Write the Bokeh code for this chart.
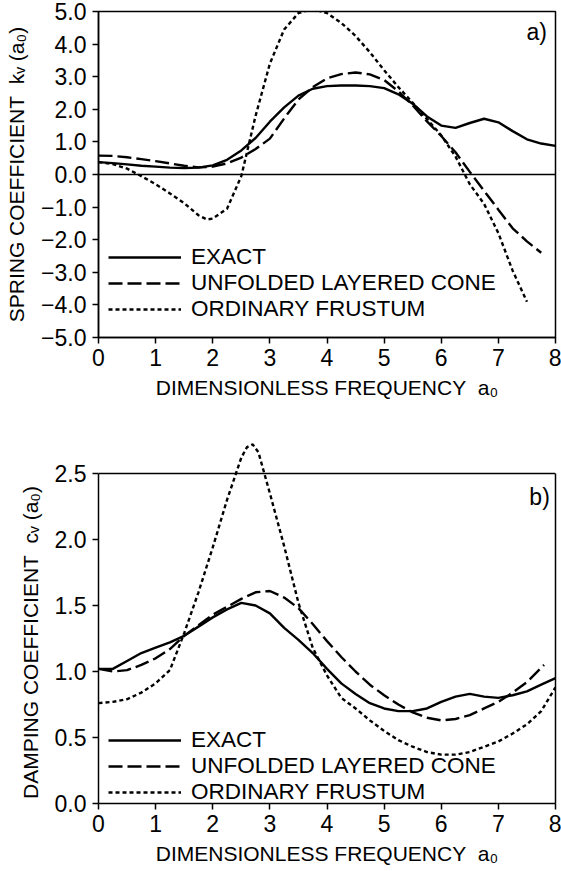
from bokeh.plotting import figure
from bokeh.layouts import column
from bokeh.models import (Legend, LegendItem, Span, LinearAxis, FixedTicker,
                          Label, Range1d)
from bokeh.embed import file_html
from bokeh.resources import INLINE

FONT = "Liberation Sans"

# ---------------- data: a) spring coefficient ----------------
k_exact_x = [0, 0.25, 0.5, 0.75, 1.0, 1.25, 1.5, 1.75, 2.0, 2.25, 2.5, 2.75, 3.0,
             3.25, 3.5, 3.75, 4.0, 4.25, 4.5, 4.75, 5.0, 5.25, 5.5, 5.75, 6.0,
             6.25, 6.5, 6.75, 7.0, 7.25, 7.5, 7.75, 8.0]
k_exact_y = [0.38, 0.35, 0.31, 0.27, 0.24, 0.21, 0.20, 0.21, 0.28, 0.45, 0.74, 1.12, 1.62,
             2.06, 2.42, 2.63, 2.71, 2.73, 2.73, 2.71, 2.65, 2.46, 2.17, 1.78, 1.50,
             1.43, 1.58, 1.71, 1.60, 1.33, 1.08, 0.95, 0.88]

k_cone_x = [0, 0.25, 0.5, 0.75, 1.0, 1.25, 1.5, 1.75, 2.0, 2.25, 2.5, 2.75, 3.0,
            3.25, 3.5, 3.75, 4.0, 4.25, 4.5, 4.75, 5.0, 5.25, 5.5, 5.75, 6.0,
            6.25, 6.5, 6.75, 7.0, 7.25, 7.5, 7.75]
k_cone_y = [0.58, 0.57, 0.53, 0.47, 0.41, 0.34, 0.27, 0.22, 0.24, 0.34, 0.52, 0.78, 1.10,
            1.72, 2.30, 2.68, 2.95, 3.08, 3.13, 3.07, 2.90, 2.55, 2.12, 1.63, 1.18,
            0.68, 0.08, -0.50, -1.08, -1.65, -2.05, -2.40]

k_frust_x = [0, 0.25, 0.5, 0.75, 1.0, 1.25, 1.5, 1.75, 1.9, 2.0, 2.25, 2.5, 2.75, 3.0,
             3.25, 3.5, 3.75, 4.0, 4.25, 4.5, 4.75, 5.0, 5.25, 5.5, 5.75, 6.0,
             6.25, 6.5, 6.75, 7.0, 7.25, 7.5]
k_frust_y = [0.38, 0.32, 0.18, -0.05, -0.30, -0.58, -0.88, -1.25, -1.38, -1.35, -1.05, -0.05, 1.80, 3.40,
             4.45, 4.95, 5.08, 4.95, 4.65, 4.25, 3.75, 3.20, 2.68, 2.20, 1.70, 1.20,
             0.55, -0.30, -0.90, -1.80, -2.95, -3.90]

# ---------------- data: b) damping coefficient ----------------
c_exact_x = [0, 0.25, 0.5, 0.75, 1.0, 1.25, 1.5, 1.75, 2.0, 2.25, 2.5, 2.75, 3.0,
             3.25, 3.5, 3.75, 4.0, 4.25, 4.5, 4.75, 5.0, 5.25, 5.5, 5.75, 6.0,
             6.25, 6.5, 6.75, 7.0, 7.25, 7.5, 7.75, 8.0]
c_exact_y = [1.02, 1.02, 1.08, 1.14, 1.18, 1.22, 1.27, 1.34, 1.41, 1.47, 1.52, 1.50, 1.44,
             1.33, 1.24, 1.14, 1.02, 0.91, 0.83, 0.76, 0.72, 0.70, 0.70, 0.72, 0.77,
             0.81, 0.83, 0.81, 0.80, 0.82, 0.85, 0.90, 0.95]

c_cone_x = [0, 0.25, 0.5, 0.75, 1.0, 1.25, 1.5, 1.75, 2.0, 2.25, 2.5, 2.75, 3.0,
            3.25, 3.5, 3.75, 4.0, 4.25, 4.5, 4.75, 5.0, 5.25, 5.5, 5.75, 6.0,
            6.25, 6.5, 6.75, 7.0, 7.25, 7.5, 7.8]
c_cone_y = [1.02, 1.00, 1.01, 1.05, 1.10, 1.17, 1.27, 1.35, 1.43, 1.49, 1.55, 1.60, 1.61,
            1.56, 1.48, 1.36, 1.23, 1.11, 1.00, 0.90, 0.82, 0.75, 0.69, 0.65, 0.63,
            0.64, 0.67, 0.72, 0.77, 0.84, 0.92, 1.05]

c_frust_x = [0, 0.25, 0.5, 0.75, 1.0, 1.25, 1.5, 1.75, 2.0, 2.25, 2.5, 2.6, 2.7, 2.8, 3.0,
             3.25, 3.5, 3.75, 4.0, 4.25, 4.5, 4.75, 5.0, 5.25, 5.5, 5.75, 6.0,
             6.25, 6.5, 6.75, 7.0, 7.25, 7.5, 7.75, 8.0]
c_frust_y = [0.76, 0.77, 0.79, 0.84, 0.91, 1.01, 1.29, 1.60, 1.94, 2.30, 2.62, 2.70, 2.72, 2.66, 2.35,
             1.95, 1.52, 1.18, 0.97, 0.80, 0.72, 0.63, 0.55, 0.48, 0.43, 0.39, 0.37,
             0.37, 0.39, 0.43, 0.47, 0.53, 0.60, 0.70, 0.88]

# ---------------- ticks / labels ----------------
x_ticks = [0, 1, 2, 3, 4, 5, 6, 7, 8]
k_ticks = [-5, -4, -3, -2, -1, 0, 1, 2, 3, 4, 5]
k_tick_labels = ["\u22125.0", "\u22124.0", "\u22123.0", "\u22122.0", "\u22121.0",
                 "0.0", "1.0", "2.0", "3.0", "4.0", "5.0"]
c_ticks = [0.0, 0.5, 1.0, 1.5, 2.0, 2.5]
c_tick_labels = ["0.0", "0.5", "1.0", "1.5", "2.0", "2.5"]
series_names = ["EXACT", "UNFOLDED LAYERED CONE", "ORDINARY FRUSTUM"]
x_title = "DIMENSIONLESS FREQUENCY\u00a0\u00a0a\u2080"
k_title = "SPRING COEFFICIENT\u00a0\u00a0k\u1d65 (a\u2080)"
c_title = "DAMPING COEFFICIENT\u00a0\u00a0c\u1d65 (a\u2080)" + "\u00a0" * 7

LW = 2.4
DASH = "14 5"
DOT = "4 3"


def style_axis(ax, title):
    ax.axis_label = title
    ax.axis_label_text_font = FONT
    ax.axis_label_text_font_size = "21px"
    ax.axis_label_text_font_style = "normal"
    ax.axis_label_text_color = "black"
    ax.major_label_text_font = FONT
    ax.major_label_text_font_size = "23px"
    ax.major_label_text_color = "black"
    ax.axis_line_color = "black"
    ax.axis_line_width = 1.5
    ax.major_tick_line_color = "black"
    ax.major_tick_line_width = 1.5
    ax.major_tick_out = 6
    ax.major_tick_in = 0
    ax.minor_tick_line_color = None


def make_legend(p, renderers, loc):
    items = [LegendItem(label=n, renderers=[r]) for n, r in zip(series_names, renderers)]
    leg = Legend(items=items, location=loc, orientation="vertical",
                 glyph_width=73, glyph_height=24, label_height=24,
                 label_standoff=10, spacing=0, padding=0, margin=0,
                 border_line_color=None, background_fill_alpha=0,
                 label_text_font=FONT, label_text_font_size="22.5px",
                 label_text_color="black")
    p.add_layout(leg)


# ---------------- figure a) ----------------
p1 = figure(width=561, height=430, x_range=Range1d(0, 8), y_range=Range1d(-5, 5),
            output_backend="svg", toolbar_location=None,
            min_border_left=98, min_border_right=6, min_border_top=11, min_border_bottom=93)
p1.grid.visible = False
p1.outline_line_color = "black"
p1.outline_line_width = 1.5
p1.background_fill_color = "white"
p1.border_fill_color = "white"

p1.xaxis.ticker = FixedTicker(ticks=x_ticks)
p1.xaxis.major_label_overrides = {t: str(t) for t in x_ticks}
p1.xaxis.major_label_standoff = 5
p1.xaxis.axis_label_standoff = 7
style_axis(p1.xaxis[0], x_title)
p1.yaxis.ticker = FixedTicker(ticks=k_ticks)
p1.yaxis.major_label_overrides = dict(zip(k_ticks, k_tick_labels))
p1.yaxis.major_label_standoff = 6
p1.yaxis.axis_label_standoff = 10
style_axis(p1.yaxis[0], k_title)

p1.add_layout(Span(location=0, dimension="width", line_color="black", line_width=1.5))

ra = p1.line(k_exact_x, k_exact_y, line_color="black", line_width=LW)
rb = p1.line(k_cone_x, k_cone_y, line_color="black", line_width=LW, line_dash=DASH)
rc = p1.line(k_frust_x, k_frust_y, line_color="black", line_width=LW, line_dash=DOT)
make_legend(p1, [ra, rb, rc], (10, 15))
p1.add_layout(Label(x=7.85, y=4.36, text="a)", text_align="right", text_baseline="middle",
                    text_font=FONT, text_font_size="23px", text_color="black"))

# ---------------- figure b) ----------------
p2 = figure(width=561, height=441, x_range=Range1d(0, 8), y_range=Range1d(0, 2.75),
            output_backend="svg", toolbar_location=None,
            min_border_left=98, min_border_right=6, min_border_top=10, min_border_bottom=68)
p2.grid.visible = False
p2.outline_line_color = None
p2.background_fill_color = "white"
p2.border_fill_color = "white"

p2.xaxis.ticker = FixedTicker(ticks=x_ticks)
p2.xaxis.major_label_overrides = {t: str(t) for t in x_ticks}
p2.xaxis.major_label_standoff = 5
p2.xaxis.axis_label_standoff = 7
style_axis(p2.xaxis[0], x_title)
p2.yaxis.ticker = FixedTicker(ticks=c_ticks)
p2.yaxis.major_label_overrides = dict(zip(c_ticks, c_tick_labels))
p2.yaxis.major_label_standoff = 6
p2.yaxis.axis_label_standoff = 10
p2.yaxis.bounds = (0, 2.5)
style_axis(p2.yaxis[0], c_title)

right = LinearAxis(ticker=FixedTicker(ticks=[]), bounds=(0, 2.5),
                   axis_line_color="black", axis_line_width=1.5,
                   major_tick_out=0, major_tick_in=0, major_label_standoff=0,
                   minor_tick_line_color=None)
p2.add_layout(right, "right")
p2.add_layout(Span(location=2.5, dimension="width", line_color="black", line_width=1.5))

rd = p2.line(c_exact_x, c_exact_y, line_color="black", line_width=LW)
re = p2.line(c_cone_x, c_cone_y, line_color="black", line_width=LW, line_dash=DASH)
rf = p2.line(c_frust_x, c_frust_y, line_color="black", line_width=LW, line_dash=DOT)
make_legend(p2, [rd, re, rf], (10, -2))
p2.add_layout(Label(x=7.9, y=2.32, text="b)", text_align="right", text_baseline="middle",
                    text_font=FONT, text_font_size="23px", text_color="black"))

layout = column(p1, p2, spacing=0)
open("out.html", "w").write(file_html(layout, INLINE))
